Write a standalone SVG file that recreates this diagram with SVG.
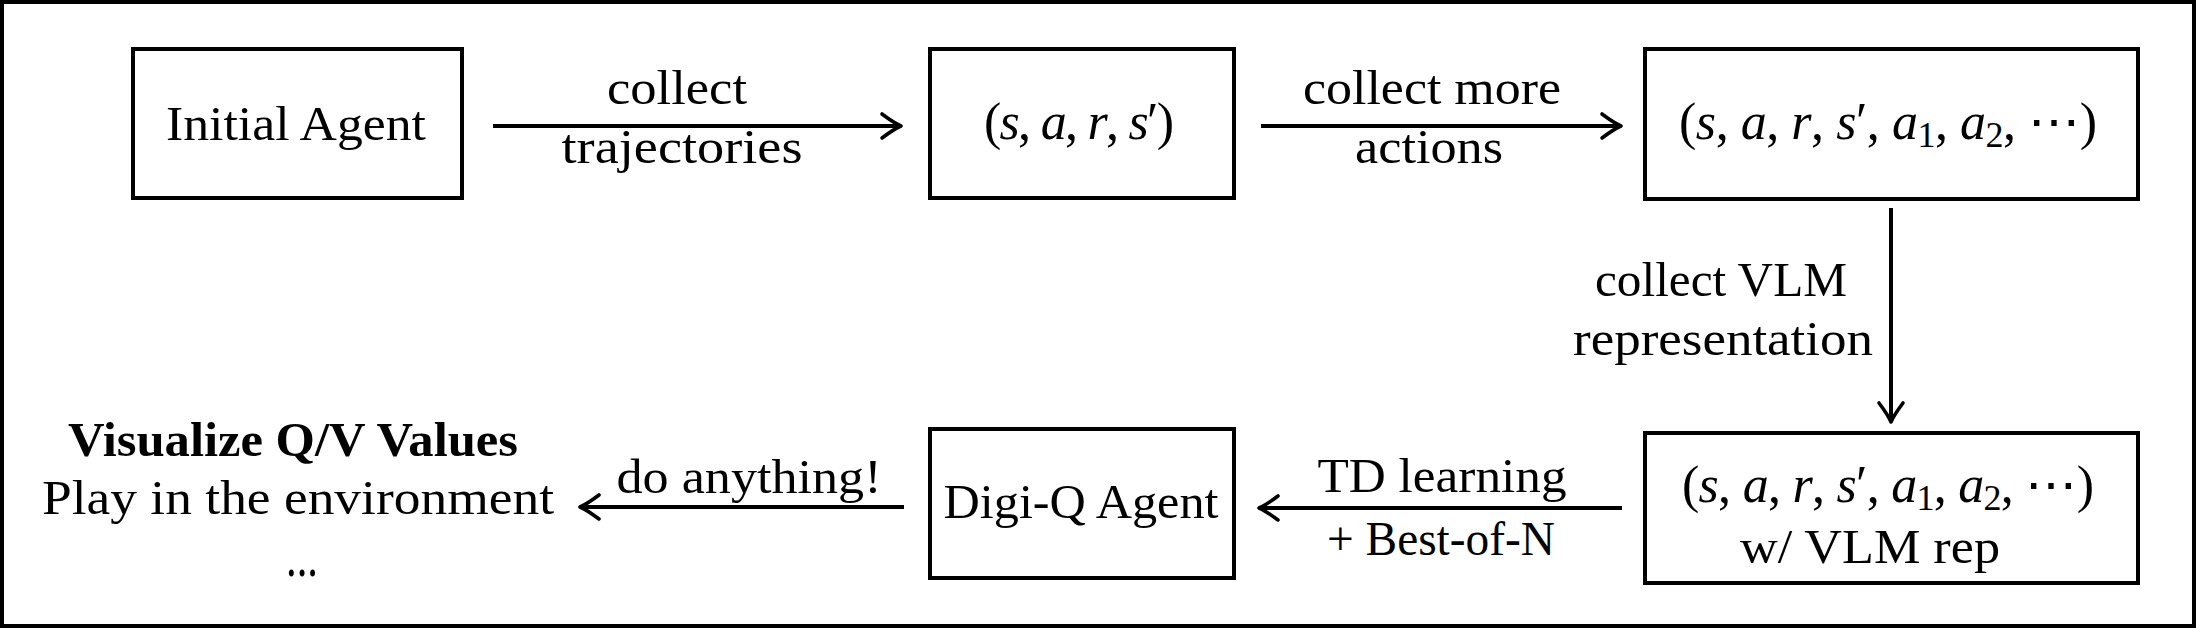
<svg xmlns="http://www.w3.org/2000/svg" width="2196" height="628" viewBox="0 0 2196 628">
  <style>
    .frame { fill: #ffffff; stroke: #000000; stroke-width: 4; }
    .box { fill: #ffffff; stroke: #000000; stroke-width: 4; }
    .edge { fill: none; stroke: #000000; stroke-width: 4; }
    .t { font-family: "Liberation Serif", "Times New Roman", serif; font-size: 48px; fill: #000000; text-anchor: middle; }
    .b { font-weight: bold; }
    .m { font-family: "Liberation Serif", "DejaVu Serif", serif; font-size: 52px; fill: #000000; text-anchor: middle; }
    .i { font-style: italic; }
    .sub { font-size: 36px; font-style: normal; }
  </style>
  <defs>
    <marker id="arrow" markerUnits="userSpaceOnUse" markerWidth="30" markerHeight="32" viewBox="-24 -16 28 32" refX="0" refY="0" orient="auto" overflow="visible">
      <path d="M -19 -12 Q -7 -3 0 0 Q -7 3 -19 12" fill="none" stroke="#000000" stroke-width="3.6" stroke-linecap="round" stroke-linejoin="round"/>
    </marker>
  </defs>

  <rect class="frame" x="2" y="2" width="2192" height="624"/>

  <g id="node-initial-agent">
    <rect class="box" x="133" y="49" width="329" height="149"/>
    <text class="t" x="296" y="140" textLength="260" lengthAdjust="spacingAndGlyphs">Initial Agent</text>
  </g>

  <g id="node-transition">
    <rect class="box" x="930" y="49" width="304" height="149"/>
    <text class="m" x="1079" y="139" textLength="190" lengthAdjust="spacing">(<tspan class="i">s</tspan>, <tspan class="i">a</tspan>, <tspan class="i">r</tspan>, <tspan class="i">s</tspan>′)</text>
  </g>

  <g id="node-more-actions">
    <rect class="box" x="1645" y="49" width="493" height="150"/>
    <text class="m" x="1888" y="139" textLength="418" lengthAdjust="spacing">(<tspan class="i">s</tspan>, <tspan class="i">a</tspan>, <tspan class="i">r</tspan>, <tspan class="i">s</tspan>′, <tspan class="i">a</tspan><tspan class="sub" dy="8">1</tspan><tspan dy="-8">, </tspan><tspan class="i">a</tspan><tspan class="sub" dy="8">2</tspan><tspan dy="-8">, ⋯)</tspan></text>
  </g>

  <g id="node-vlm-rep">
    <rect class="box" x="1645" y="433" width="493" height="150"/>
    <text class="m" x="1888" y="502" textLength="412" lengthAdjust="spacing">(<tspan class="i">s</tspan>, <tspan class="i">a</tspan>, <tspan class="i">r</tspan>, <tspan class="i">s</tspan>′, <tspan class="i">a</tspan><tspan class="sub" dy="8">1</tspan><tspan dy="-8">, </tspan><tspan class="i">a</tspan><tspan class="sub" dy="8">2</tspan><tspan dy="-8">, ⋯)</tspan></text>
    <text class="t" x="1870" y="563" textLength="260" lengthAdjust="spacingAndGlyphs">w/ VLM rep</text>
  </g>

  <g id="node-digiq-agent">
    <rect class="box" x="930" y="429" width="304" height="149"/>
    <text class="t" x="1081" y="518" textLength="275" lengthAdjust="spacingAndGlyphs">Digi-Q Agent</text>
  </g>

  <g id="node-visualize">
    <text class="t b" x="293" y="456" textLength="450" lengthAdjust="spacingAndGlyphs">Visualize Q/V Values</text>
    <text class="t" x="298" y="514" textLength="512" lengthAdjust="spacingAndGlyphs">Play in the environment</text>
    <text class="t" x="302" y="576" style="font-size:60px" textLength="32" lengthAdjust="spacingAndGlyphs">...</text>
  </g>

  <g id="connectors">
    <line class="edge" x1="493" y1="126" x2="901" y2="126" marker-end="url(#arrow)"/>
    <line class="edge" x1="1261" y1="126" x2="1621" y2="126" marker-end="url(#arrow)"/>
    <line class="edge" x1="1891" y1="208" x2="1891" y2="422" marker-end="url(#arrow)"/>
    <line class="edge" x1="1622" y1="508" x2="1259" y2="508" marker-end="url(#arrow)"/>
    <line class="edge" x1="904" y1="507" x2="580" y2="507" marker-end="url(#arrow)"/>
  </g>

  <g id="edge-labels">
    <text class="t" x="677" y="104" textLength="140" lengthAdjust="spacingAndGlyphs">collect</text>
    <text class="t" x="682" y="163" textLength="241" lengthAdjust="spacingAndGlyphs">trajectories</text>
    <text class="t" x="1432" y="104" textLength="258" lengthAdjust="spacingAndGlyphs">collect more</text>
    <text class="t" x="1429" y="163" textLength="148" lengthAdjust="spacingAndGlyphs">actions</text>
    <text class="t" x="1721" y="296" textLength="252" lengthAdjust="spacingAndGlyphs">collect VLM</text>
    <text class="t" x="1723" y="355" textLength="300" lengthAdjust="spacingAndGlyphs">representation</text>
    <text class="t" x="1442" y="492" textLength="249" lengthAdjust="spacingAndGlyphs">TD learning</text>
    <text class="t" x="1441" y="555" textLength="228" lengthAdjust="spacingAndGlyphs">+ Best-of-N</text>
    <text class="t" x="749" y="493" textLength="265" lengthAdjust="spacingAndGlyphs">do anything!</text>
  </g>
</svg>
